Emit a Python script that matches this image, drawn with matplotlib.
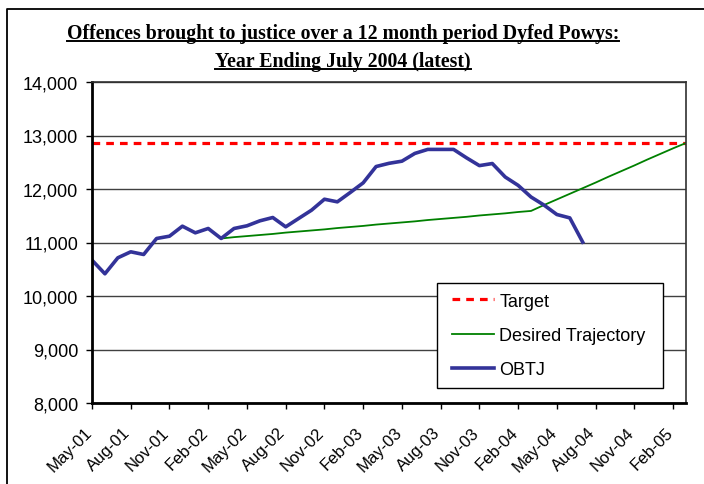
import numpy as np
import matplotlib
matplotlib.use('Agg')
from matplotlib import pyplot as plt
from matplotlib.lines import Line2D
from matplotlib.patches import Rectangle
import matplotlib.transforms as mtransforms

# Monthly data, May-01 onwards (month index 0 = May-01)
obtj = [10670, 10415, 10714, 10826, 10776, 11075, 11118, 11305, 11181, 11262,
        11075, 11262, 11312, 11405, 11467, 11293, 11449, 11604, 11809, 11760,
        11935, 12115, 12420, 12480, 12520, 12665, 12740, 12740, 12740, 12583,
        12437, 12476, 12224, 12068, 11850, 11700, 11523, 11460, 11007]

# Desired trajectory starts Mar-02 (month index 10) and runs to Mar-05
trajectory_start = 10
trajectory = [11075, 11100, 11120, 11140, 11160, 11185, 11205, 11225, 11245, 11270,
              11290, 11310, 11335, 11355, 11375, 11395, 11420, 11440, 11460, 11480,
              11505, 11525, 11545, 11570, 11590, 11700, 11805, 11910, 12015, 12120,
              12230, 12335, 12440, 12550, 12655, 12760, 12860]

target = 12860

tick_labels = ['May-01', 'Aug-01', 'Nov-01', 'Feb-02', 'May-02', 'Aug-02', 'Nov-02', 'Feb-03',
               'May-03', 'Aug-03', 'Nov-03', 'Feb-04', 'May-04', 'Aug-04', 'Nov-04', 'Feb-05']

n_months = trajectory_start + len(trajectory)

plt.rcParams['font.family'] = ['Liberation Sans', 'DejaVu Sans']

fig = plt.figure(figsize=(7.04, 4.85), dpi=100)
ax = fig.add_axes([92/704, 1 - 404/485, (686-92)/704, (404-83)/485])

# Gridlines
ax.set_ylim(8000, 14000)
ax.set_yticks(np.arange(8000, 14001, 1000))
ax.yaxis.grid(True, color='#404040', linewidth=1)
ax.set_axisbelow(True)

# Series
ax.axhline(target, color='#FF0000', linewidth=2.3, dashes=(2.4, 1.9), label='Target')
ax.plot(np.arange(len(trajectory)) + trajectory_start, trajectory,
        color='#008000', linewidth=1.3, label='Desired Trajectory')
ax.plot(np.arange(len(obtj)), obtj, color='#333399', linewidth=2.6, label='OBTJ')

ax.set_xlim(0, n_months - 1)
ax.set_xticks(np.arange(0, n_months - 1, 3))
ax.set_xticklabels(tick_labels, rotation=45, ha='right', rotation_mode='anchor')
ax.yaxis.set_major_formatter(matplotlib.ticker.StrMethodFormatter('{x:,.0f}'))

ax.tick_params(axis='both', direction='out', length=4, width=1, colors='black')
ax.tick_params(axis='y', pad=6, labelsize=13)
ax.tick_params(axis='x', pad=4, labelsize=12)

# shift x labels down-left like the original
shift = mtransforms.ScaledTranslation(-0.08, -0.10, fig.dpi_scale_trans)
for lbl in ax.get_xticklabels():
    lbl.set_transform(lbl.get_transform() + shift)

for side in ['left', 'bottom']:
    ax.spines[side].set_linewidth(2)
    ax.spines[side].set_color('black')
for side in ['top', 'right']:
    ax.spines[side].set_linewidth(1.2)
    ax.spines[side].set_color('#303030')

# legend box drawn separately so the padding can match
box = Rectangle((0.581, 0.047), 0.38, 0.327, transform=ax.transAxes, facecolor='white',
                edgecolor='black', linewidth=1, zorder=4.5)
ax.add_patch(box)
leg = ax.legend(loc='center', bbox_to_anchor=(0.581 + 0.38/2 - 0.002, 0.047 + 0.327/2),
                fontsize=13, frameon=False, handlelength=2.3, handletextpad=0.3,
                labelspacing=0.95, borderpad=0, borderaxespad=0)
leg.set_zorder(5)

# Title, bold serif and underlined
title_lines = ['Offences brought to justice over a 12 month period Dyfed Powys:',
               'Year Ending July 2004 (latest)']
title_base = [1 - 39/485, 1 - 67/485]
texts = []
for line, yy in zip(title_lines, title_base):
    texts.append(fig.text(343/704, yy, line, ha='center', va='baseline', fontsize=14.3,
                          fontweight='bold', family=['Liberation Serif', 'DejaVu Serif']))

fig.canvas.draw()
for t, yy in zip(texts, title_base):
    bb = t.get_window_extent(fig.canvas.get_renderer())
    uy = yy - 3/485
    fig.add_artist(Line2D([bb.x0 / fig.bbox.width, bb.x1 / fig.bbox.width], [uy, uy],
                          transform=fig.transFigure, color='black', linewidth=1.4))

# outer chart frame (cropped on right and bottom in the original)
fig.add_artist(Line2D([7/704, 7/704, 1], [0, 1 - 10/485, 1 - 10/485],
                      transform=fig.transFigure, color='black', linewidth=1.3))

fig.savefig('out.png', dpi=100)
